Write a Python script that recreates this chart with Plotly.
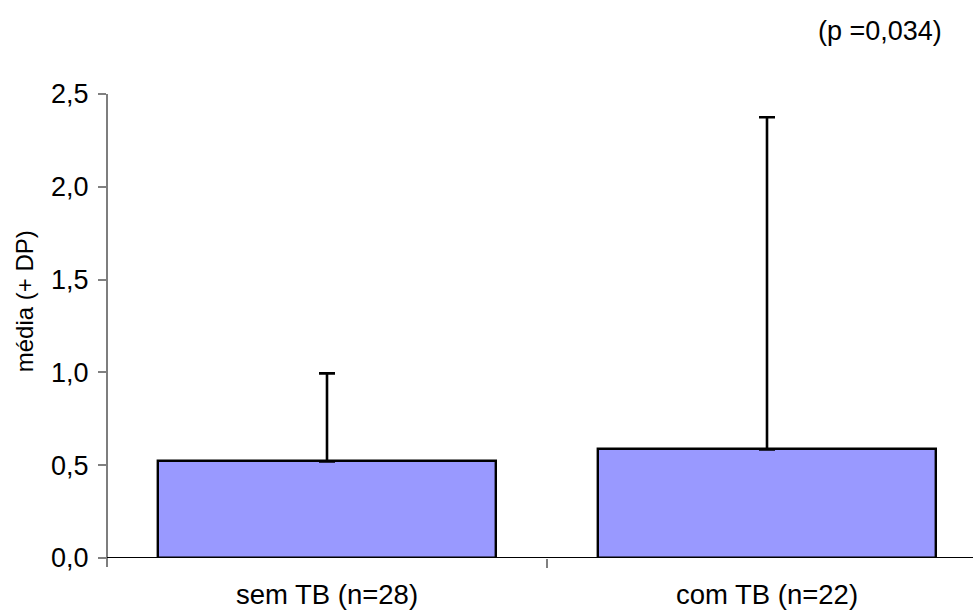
import plotly.graph_objects as go

# Mean and standard deviation per group
groups = ["sem TB (n=28)", "com TB (n=22)"]
means = [0.52, 0.585]
sd = [0.475, 1.79]
y_ticks = [0.0, 0.5, 1.0, 1.5, 2.0, 2.5]
y_tick_text = ["0,0", "0,5", "1,0", "1,5", "2,0", "2,5"]
p_text = "(p =0,034)"
y_title = "média (+ DP)"

FONT = "Arial, Liberation Sans, Helvetica, sans-serif"
W, H = 973, 612
L, T, B = 107, 94, 54
plot_w = W - L
plot_h = H - T - B
px_per_cat = 440.0
x_lo = -0.5
x_hi = x_lo + plot_w / px_per_cat

xpos = list(range(len(groups)))

fig = go.Figure()
fig.add_trace(go.Bar(
    x=xpos,
    y=means,
    width=0.768,
    marker=dict(color="#9999FF", line=dict(color="#000000", width=2.4)),
    error_y=dict(type="data", array=sd, arrayminus=[0] * len(sd), symmetric=False,
                 color="#000000", thickness=2.6, width=8),
    showlegend=False,
))

# invisible trace on the secondary x axis so its category-boundary tick is drawn
fig.add_trace(go.Scatter(x=[0.5], y=[None], xaxis="x2", showlegend=False,
                         hoverinfo="skip"))

fig.update_layout(
    width=W, height=H,
    margin=dict(l=L, r=0, t=T, b=B, pad=0),
    paper_bgcolor="white", plot_bgcolor="white",
    font=dict(family=FONT, color="#000000", size=24),
    bargap=0,
    xaxis=dict(
        range=[x_lo, x_hi],
        tickvals=xpos, ticktext=groups,
        ticks="", showgrid=False, zeroline=False,
        showline=False,
        tickfont=dict(size=27.5, family=FONT),
        ticklabelstandoff=17,
    ),
    xaxis2=dict(
        range=[x_lo, x_hi], overlaying="x", side="bottom",
        tickvals=[0.5], ticktext=[""], ticks="outside", ticklen=9,
        tickwidth=1.5, tickcolor="#808080",
        showgrid=False, zeroline=False, showline=False,
    ),
    yaxis=dict(
        range=[0, 2.5],
        tickvals=y_ticks, ticktext=y_tick_text,
        ticks="outside", ticklen=8, tickwidth=1.5, tickcolor="#808080",
        showgrid=False, zeroline=False, showline=False,
        tickfont=dict(size=27, family=FONT),
        ticklabelstandoff=4,
    ),
    shapes=[
        # vertical axis line, extending slightly below the baseline
        dict(type="line", xref="paper", yref="paper", x0=0, x1=0,
             y0=-9 / plot_h, y1=1, line=dict(color="#707070", width=1.8)),
        # horizontal baseline
        dict(type="line", xref="paper", yref="y", x0=0, x1=1, y0=0, y1=0,
             line=dict(color="#000000", width=2), layer="above"),
    ],
    annotations=[
        dict(text=p_text, xref="paper", yref="paper",
             x=(880 - L) / plot_w, y=(557.7 - 31) / plot_h,
             xanchor="center", yanchor="middle", showarrow=False,
             font=dict(size=27, family=FONT)),
        dict(text=y_title, xref="paper", yref="paper",
             x=(24 - L) / plot_w, y=(557.7 - 301) / plot_h,
             xanchor="center", yanchor="middle", textangle=-90,
             showarrow=False, font=dict(size=24, family=FONT)),
    ],
)

fig.write_html("out.html")
